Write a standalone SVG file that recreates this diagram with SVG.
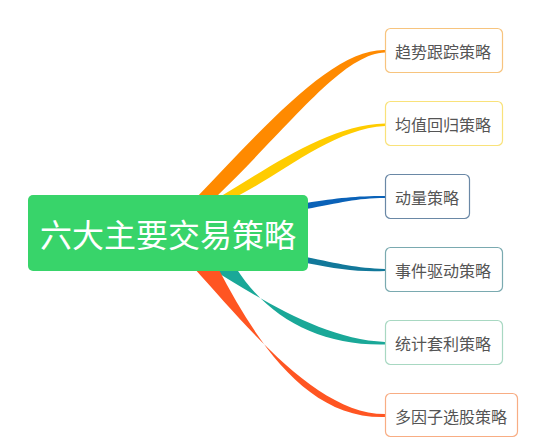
<svg xmlns="http://www.w3.org/2000/svg" width="547" height="438" viewBox="0 0 547 438">
<style>
.box{fill:#ffffff;stroke-width:1.2}
.lbl{font-family:"Noto Sans CJK SC","Noto Sans",sans-serif;font-size:16px;fill:#555555;dominant-baseline:central}
.main{font-family:"Noto Sans CJK SC","Noto Sans",sans-serif;font-size:32px;fill:#ffffff;text-anchor:middle;dominant-baseline:central}
</style>
<rect width="547" height="438" fill="#ffffff"/>
<g id="connectors">
<path d="M196,198 C272,118 335,49 385,50 L385,52.5 C342,54 290,126 215,198 Z" fill="#ff8a00"/>
<path d="M218,198 C272,166 328,125 385,123.5 L385,126 C332,129 282,174 234,198 Z" fill="#ffcc00"/>
<path d="M306,203 C338,198 355,196 385,196 L385,198 C356,198 340,203 306,209 Z" fill="#0a62b8"/>
<path d="M306,257 C340,264 356,268 385,269 L385,271 C356,272 338,269 306,263 Z" fill="#12789a"/>
<path d="M210,268 C262,300 325,340 385,342 L385,344.5 C320,346 268,318 236,268 Z" fill="#1aa898"/>
<path d="M194,268 C250,330 318,414 385,414 L385,417 C308,419 258,345 218,268 Z" fill="#ff5522"/>
</g>
<g id="center">
<rect x="28" y="195" width="280" height="76" rx="5" fill="#38d46a"/>
<text class="main" x="168" y="233">六大主要交易策略</text>
</g>
<g id="n1">
<rect class="box" x="385.5" y="28.5" width="117" height="44" rx="5" stroke="#f7c47e"/>
<text class="lbl" x="395" y="51">趋势跟踪策略</text>
</g>
<g id="n2">
<rect class="box" x="385.5" y="101.5" width="117" height="44" rx="5" stroke="#f9e27a"/>
<text class="lbl" x="395" y="124">均值回归策略</text>
</g>
<g id="n3">
<rect class="box" x="385.5" y="174.5" width="84" height="44" rx="5" stroke="#6a88a6"/>
<text class="lbl" x="395" y="197">动量策略</text>
</g>
<g id="n4">
<rect class="box" x="385.5" y="247.5" width="117" height="44" rx="5" stroke="#7aaab0"/>
<text class="lbl" x="395" y="270">事件驱动策略</text>
</g>
<g id="n5">
<rect class="box" x="385.5" y="320.5" width="117" height="44" rx="5" stroke="#a8d8c2"/>
<text class="lbl" x="395" y="343">统计套利策略</text>
</g>
<g id="n6">
<rect class="box" x="385.5" y="393.5" width="132" height="43" rx="5" stroke="#f8ad84"/>
<text class="lbl" x="395" y="416">多因子选股策略</text>
</g>
</svg>
